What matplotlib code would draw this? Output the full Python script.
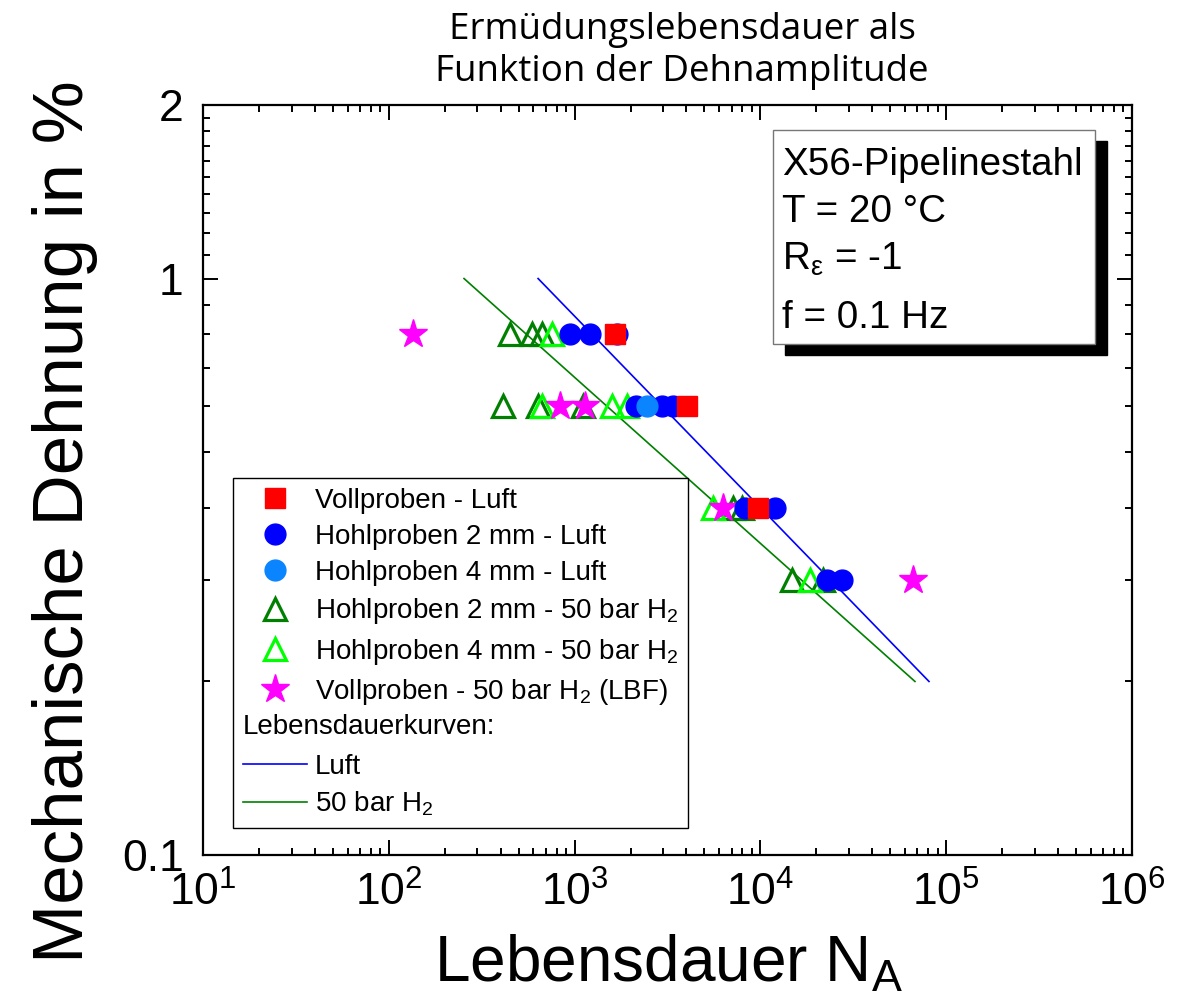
import matplotlib
matplotlib.use('Agg')
import matplotlib.pyplot as plt
from matplotlib.lines import Line2D
from matplotlib.patches import Rectangle
from matplotlib.legend_handler import HandlerBase
from matplotlib.text import Text
from matplotlib.ticker import NullFormatter

plt.rcParams['font.family'] = ['Liberation Sans', 'DejaVu Sans']
plt.rcParams['mathtext.default'] = 'regular'

# --- data (strain amplitude in %, cycles to failure) ---
voll_luft_N = [1650, 4030, 9710]
voll_luft_eps = [0.8, 0.6, 0.4]

hohl2_luft_N = [944, 1210, 1690, 2150, 2950, 3400, 8260, 12000, 22800, 27500]
hohl2_luft_eps = [0.8, 0.8, 0.8, 0.6, 0.6, 0.6, 0.4, 0.4, 0.3, 0.3]

hohl4_luft_N = [2450]
hohl4_luft_eps = [0.6]

hohl2_h2_N = [449, 590, 668, 412, 636, 1109, 7120, 7960, 14800, 21700]
hohl2_h2_eps = [0.8, 0.8, 0.8, 0.6, 0.6, 0.6, 0.4, 0.4, 0.3, 0.3]

hohl4_h2_N = [755, 668, 1589, 1915, 5560, 18500]
hohl4_h2_eps = [0.8, 0.6, 0.6, 0.6, 0.4, 0.3]

voll_h2_N = [135, 834, 1137, 6290, 66200]
voll_h2_eps = [0.8, 0.6, 0.6, 0.4, 0.3]

# fitted life curves (end points)
kurve_luft_N = [636, 80800]
kurve_luft_eps = [1.0, 0.2]
kurve_h2_N = [254, 67900]
kurve_h2_eps = [1.0, 0.2]

y_major = [0.1, 1, 2]
y_major_labels = ['0.1', '1', '2']
y_minor = [0.2, 0.3, 0.4, 0.5, 0.6, 0.7, 0.8, 0.9,
           1.1, 1.2, 1.3, 1.4, 1.5, 1.6, 1.7, 1.8, 1.9]

info_lines = ['X56-Pipelinestahl', 'T = 20 °C', r'R$_{\epsilon}$ = -1', 'f = 0.1 Hz']


class HeaderHandler(HandlerBase):
    def create_artists(self, legend, orig_handle, xdescent, ydescent,
                       width, height, fontsize, trans):
        t = Text(-xdescent, (height - ydescent) / 2, orig_handle,
                 fontsize=fontsize, ha='left', va='center', transform=trans)
        return [t]


fig = plt.figure(figsize=(11.86, 9.98), dpi=100)
ax = fig.add_axes([203 / 1186, (998 - 855) / 998, 929 / 1186, 750 / 998])

ax.plot(kurve_luft_N, kurve_luft_eps, color='#0000ff', lw=1.2, zorder=2)
ax.plot(kurve_h2_N, kurve_h2_eps, color='#008000', lw=1.2, zorder=2)

ms = 15
ax.plot(hohl2_h2_N, hohl2_h2_eps, ls='none', marker='^', ms=16.5, mfc='none',
        mec='#008000', mew=2.3, zorder=3)
ax.plot(hohl4_h2_N, hohl4_h2_eps, ls='none', marker='^', ms=16.5, mfc='none',
        mec='#00ff00', mew=2.3, zorder=4)
ax.plot(voll_h2_N, voll_h2_eps, ls='none', marker='*', ms=21, color='#ff00ff',
        mec='#ff00ff', zorder=5)
ax.plot(hohl2_luft_N, hohl2_luft_eps, ls='none', marker='o', ms=ms, color='#0000ff',
        mec='#0000ff', zorder=6)
ax.plot(hohl4_luft_N, hohl4_luft_eps, ls='none', marker='o', ms=ms, color='#0a84ff',
        mec='#0a84ff', zorder=7)
ax.plot(voll_luft_N, voll_luft_eps, ls='none', marker='s', ms=ms, color='#ff0000',
        mec='#ff0000', zorder=8)

ax.set_xscale('log')
ax.set_yscale('log')
ax.set_xlim(10, 1e6)
ax.set_ylim(0.1, 2)
ax.set_yticks(y_major, labels=y_major_labels)
ax.set_yticks(y_minor, minor=True)
ax.yaxis.set_minor_formatter(NullFormatter())

for s in ax.spines.values():
    s.set_linewidth(1.6)
ax.tick_params(which='both', direction='in', top=True, right=True, width=1.4)
ax.tick_params(which='major', length=11, labelsize=32)
ax.tick_params(which='minor', length=5)
ax.tick_params(axis='y', which='major', pad=14)
ax.tick_params(axis='x', which='major', pad=12)

# info box with shadow
bx, by, bw, bh = 0.6136, 0.6813, 0.3466, 0.2853
ax.add_patch(Rectangle((bx + 0.013, by - 0.0147), bw, bh, transform=ax.transAxes,
                       facecolor='black', edgecolor='black', zorder=9))
ax.add_patch(Rectangle((bx, by), bw, bh, transform=ax.transAxes,
                       facecolor='white', edgecolor='#777777', lw=1, zorder=10))
for txt, yy in zip(info_lines, [0.9067, 0.844, 0.78, 0.7027]):
    ax.text(0.6233, yy, txt, transform=ax.transAxes, fontsize=27.8,
            va='baseline', ha='left', zorder=11)

# legend
handles = [
    Line2D([], [], ls='none', marker='s', ms=ms, color='#ff0000'),
    Line2D([], [], ls='none', marker='o', ms=ms, color='#0000ff'),
    Line2D([], [], ls='none', marker='o', ms=ms, color='#0a84ff'),
    Line2D([], [], ls='none', marker='^', ms=16.5, mfc='none', mec='#008000', mew=2.3),
    Line2D([], [], ls='none', marker='^', ms=16.5, mfc='none', mec='#00ff00', mew=2.3),
    Line2D([], [], ls='none', marker='*', ms=21, color='#ff00ff'),
    'Lebensdauerkurven:',
    Line2D([], [], color='#0000ff', lw=1.2),
    Line2D([], [], color='#008000', lw=1.2),
]
labels = [
    'Vollproben - Luft',
    'Hohlproben 2 mm - Luft',
    'Hohlproben 4 mm - Luft',
    'Hohlproben 2 mm - 50 bar H$_2$',
    'Hohlproben 4 mm - 50 bar H$_2$',
    'Vollproben - 50 bar H$_2$ (LBF)',
    '',
    'Luft',
    '50 bar H$_2$',
]
leg = ax.legend(handles, labels, handler_map={str: HeaderHandler()},
                loc='lower left', bbox_to_anchor=(0.0323, 0.036), borderaxespad=0,
                fontsize=20, frameon=True, fancybox=False, framealpha=1,
                edgecolor='black', handlelength=2.3, handletextpad=0.3,
                labelspacing=0.37, borderpad=0.35)
leg.get_frame().set_linewidth(1.0)
leg.set_zorder(12)

fig.text(65 / 1186, 1 - 522 / 998, 'Mechanische Dehnung in %', rotation=90,
         fontsize=51, ha='center', va='center')
fig.text(669 / 1186, 1 - 964 / 998, 'Lebensdauer N$_A$', fontsize=46,
         ha='center', va='center')
fig.text(682 / 1186, 1 - 51 / 998, 'Ermüdungslebensdauer als\nFunktion der Dehnamplitude',
         fontsize=26.5, family=['Open Sans', 'DejaVu Sans'], ha='center', va='center',
         linespacing=1.2)

fig.savefig('out.png', dpi=100)
